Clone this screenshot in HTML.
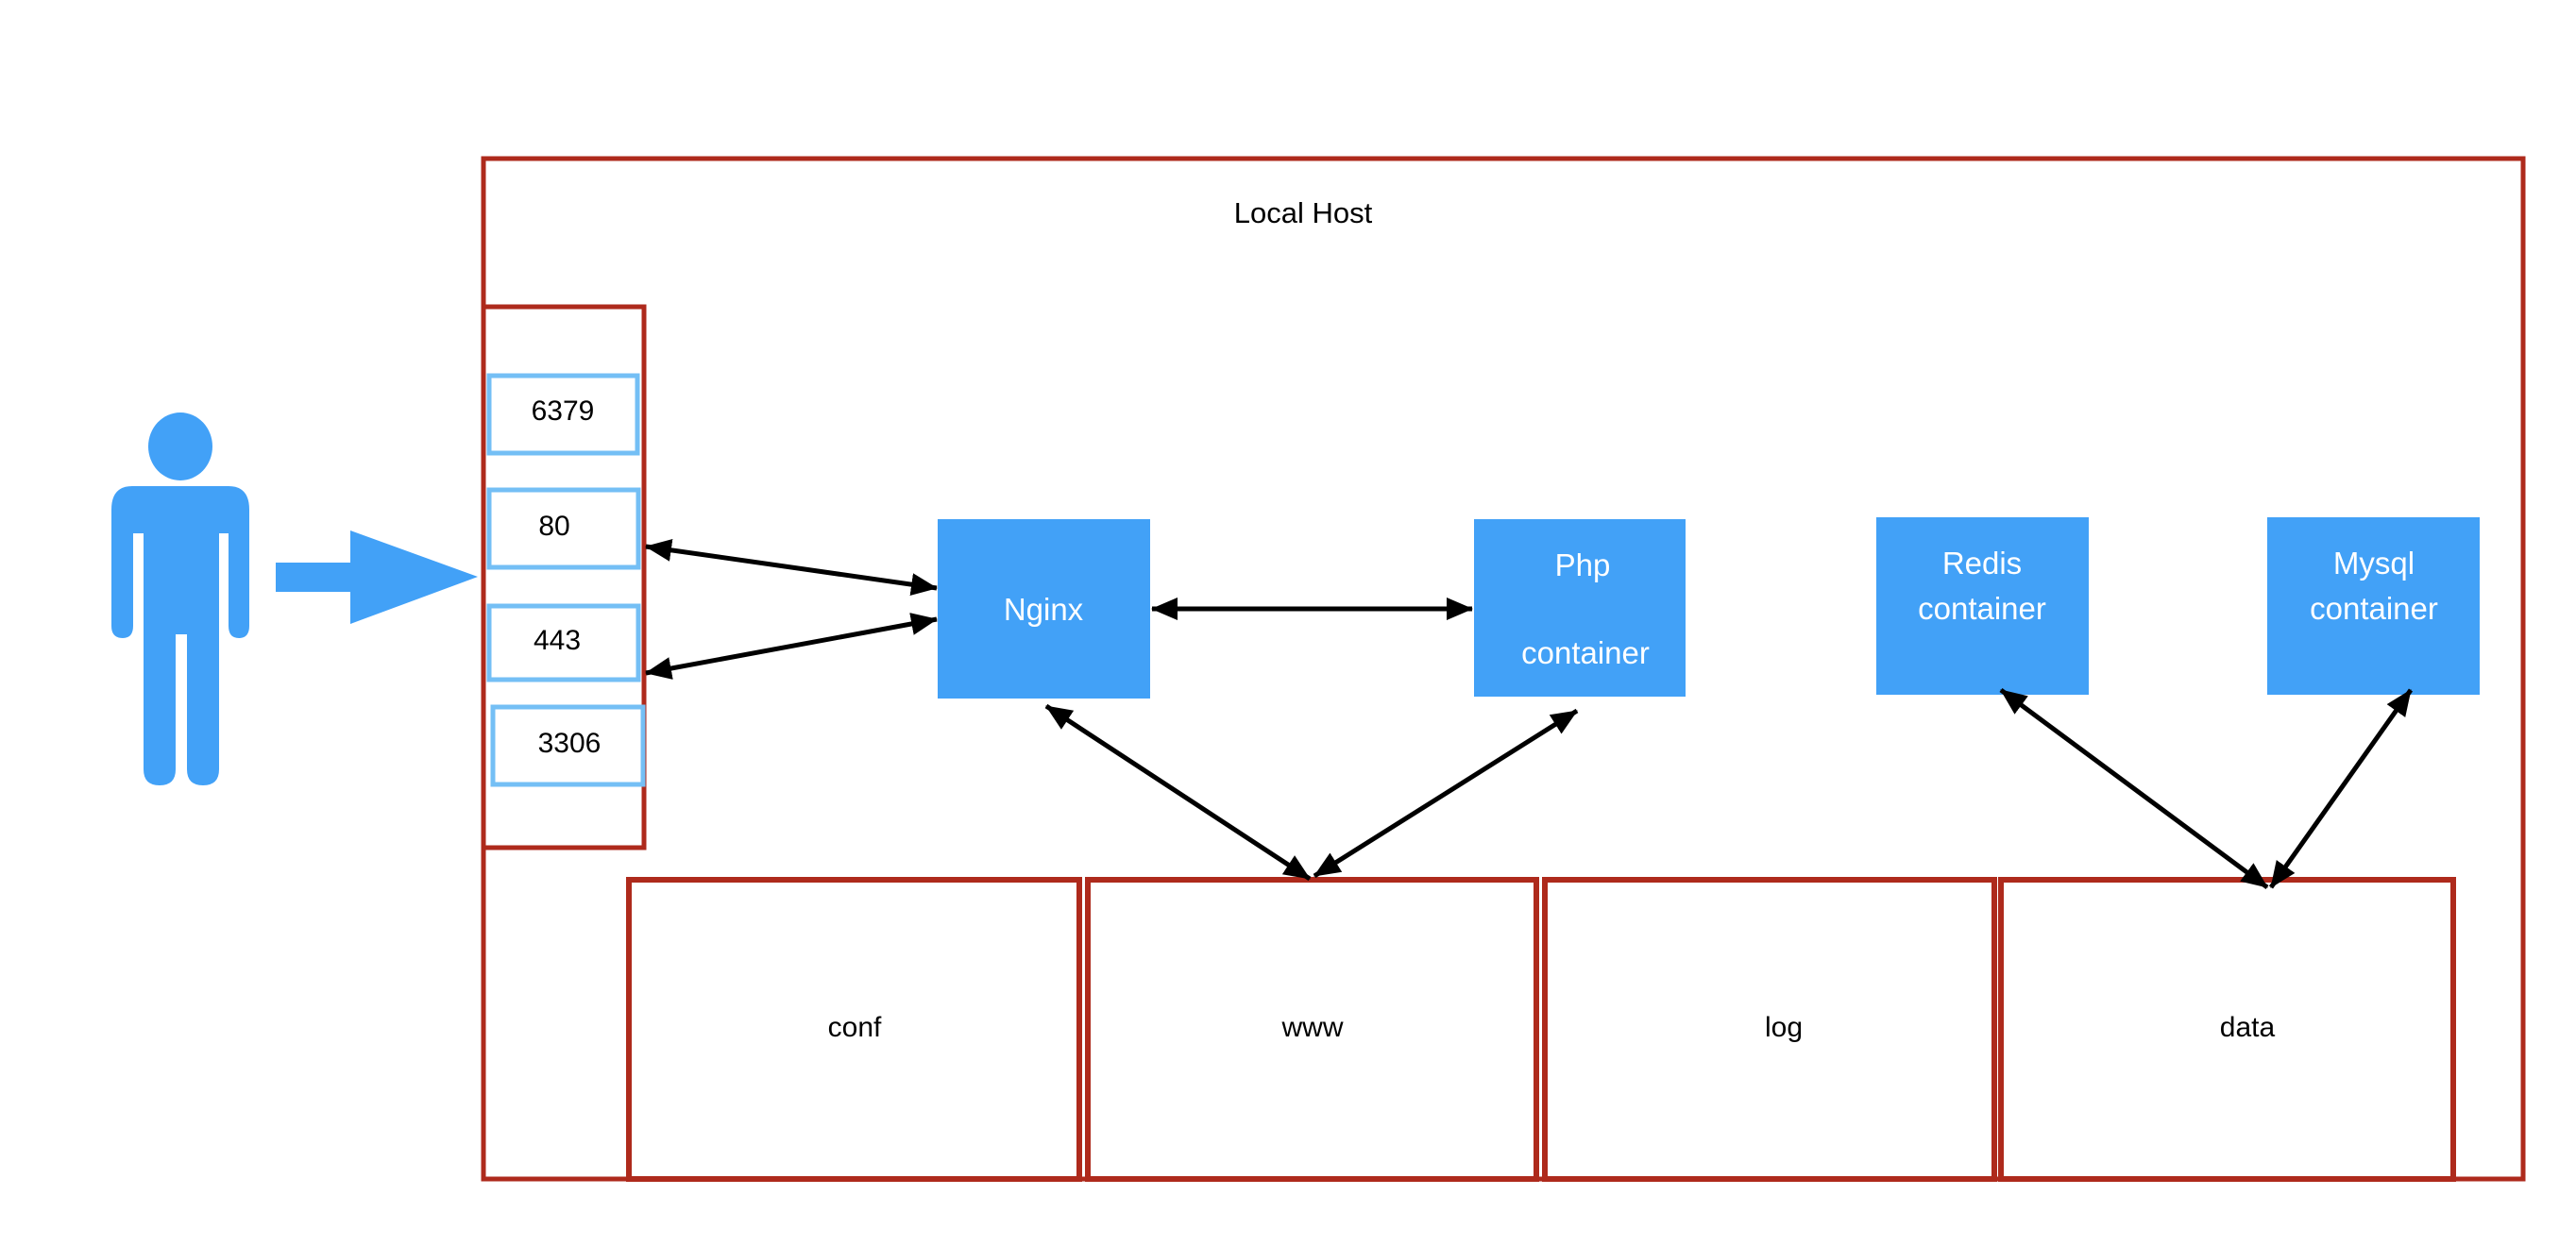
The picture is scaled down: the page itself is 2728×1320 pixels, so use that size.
<!DOCTYPE html>
<html><head><meta charset="utf-8"><style>
html,body{margin:0;padding:0;background:#fff;}
svg{display:block;}
text{font-family:"Liberation Sans",Arial,sans-serif;}
</style></head><body>
<svg width="2728" height="1320" viewBox="0 0 2728 1320" xmlns="http://www.w3.org/2000/svg">
<defs>
<marker id="ah" markerUnits="userSpaceOnUse" markerWidth="30" markerHeight="26" refX="27" refY="13" orient="auto-start-reverse">
<path d="M0,1 L28,13 L0,25 Z" fill="#000"/>
</marker>
</defs>
<rect width="2728" height="1320" fill="#fff"/>
<rect x="512" y="168" width="2160" height="1081" fill="none" stroke="#ae2a1c" stroke-width="5"/>
<text x="1380" y="236" font-size="31" text-anchor="middle" fill="#000">Local Host</text>
<rect x="512" y="325" width="170" height="573" fill="none" stroke="#ae2a1c" stroke-width="5"/>
<g fill="#fff" stroke="#74bff5" stroke-width="5">
<rect x="518" y="398" width="157" height="82"/>
<rect x="518" y="519" width="158" height="82"/>
<rect x="518" y="642" width="158" height="78"/>
<rect x="522" y="749" width="159" height="82"/>
</g>
<g font-size="30" fill="#000" text-anchor="middle">
<text x="596" y="445">6379</text>
<text x="587" y="567">80</text>
<text x="590" y="688">443</text>
<text x="603" y="797">3306</text>
</g>
<g fill="#42a1f7">
<rect x="993" y="550" width="225" height="190"/>
<rect x="1561" y="550" width="224" height="188"/>
<rect x="1987" y="548" width="225" height="188"/>
<rect x="2401" y="548" width="225" height="188"/>
</g>
<g font-size="33" fill="#fff" text-anchor="middle">
<text x="1105" y="657">Nginx</text>
<text x="1676" y="610">Php</text>
<text x="1679" y="703">container</text>
<text x="2099" y="608">Redis</text>
<text x="2099" y="656">container</text>
<text x="2514" y="608">Mysql</text>
<text x="2514" y="656">container</text>
</g>
<g fill="none" stroke="#ae2a1c" stroke-width="6">
<rect x="666" y="932" width="477" height="317"/>
<rect x="1152" y="932" width="475" height="317"/>
<rect x="1636" y="932" width="476" height="317"/>
<rect x="2119" y="932" width="479" height="317"/>
</g>
<g font-size="30" fill="#000" text-anchor="middle">
<text x="905" y="1098">conf</text>
<text x="1390" y="1098">www</text>
<text x="1889" y="1098">log</text>
<text x="2380" y="1098">data</text>
</g>
<g fill="#42a1f7">
<ellipse cx="191" cy="473" rx="34" ry="36"/>
<path d="M140,515 L242,515 Q264,515 264,540 L264,663 Q264,676 253,676 Q242,676 242,663 L242,565 L232,565 L232,815 Q232,832 215,832 Q198,832 198,815 L198,672 L186,672 L186,815 Q186,832 169,832 Q152,832 152,815 L152,565 L141,565 L141,663 Q141,676 130,676 Q118,676 118,663 L118,540 Q118,515 140,515 Z"/>
<rect x="292" y="596" width="80" height="31"/>
<path d="M371,562 L506,611 L371,661 Z"/>
</g>
<g stroke="#000" stroke-width="5" fill="none" marker-start="url(#ah)" marker-end="url(#ah)">
<line x1="684" y1="579" x2="992" y2="623"/>
<line x1="684" y1="713" x2="992" y2="656"/>
<line x1="1220" y1="645" x2="1559" y2="645"/>
<line x1="1108" y1="748" x2="1387" y2="931"/>
<line x1="1670" y1="753" x2="1392" y2="928"/>
<line x1="2119" y1="731" x2="2401" y2="940"/>
<line x1="2553" y1="731" x2="2405" y2="940"/>
</g>
</svg>
</body></html>
